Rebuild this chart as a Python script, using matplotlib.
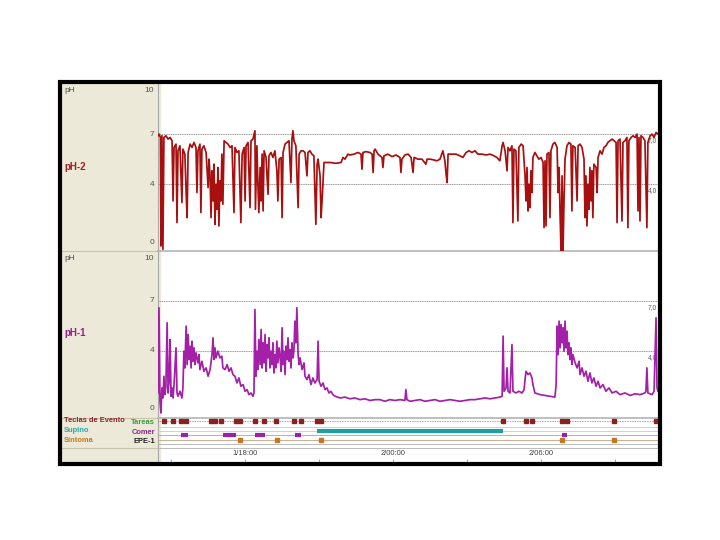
import matplotlib
matplotlib.use("Agg")
import matplotlib.pyplot as plt
from matplotlib.patches import Rectangle

plt.rcParams['font.family'] = ['Liberation Sans', 'DejaVu Sans']

# ---------------- data (time in hours from day 1 00:00, pH) ----------------
ph2_t = [14.47, 14.51, 14.57, 14.59, 14.63, 14.67, 14.71, 14.79, 14.88, 14.96, 15.04, 15.08, 15.12, 15.20, 15.24,
         15.28, 15.36, 15.44, 15.48, 15.56, 15.61, 15.65, 15.69, 15.77, 15.85, 15.93, 16.01, 16.05, 16.09, 16.17,
         16.21, 16.25, 16.33, 16.42, 16.50, 16.54, 16.58, 16.62, 16.66, 16.70, 16.74, 16.78, 16.82, 16.86, 16.90,
         16.94, 16.98, 17.02, 17.06, 17.10, 17.15, 17.23, 17.31, 17.39, 17.47, 17.55, 17.59, 17.67, 17.75, 17.83,
         17.88, 17.96, 18.00, 18.04, 18.12, 18.20, 18.24, 18.32, 18.40, 18.42, 18.48, 18.52, 18.56, 18.61, 18.65,
         18.69, 18.73, 18.77, 18.85, 18.93, 18.97, 19.05, 19.13, 19.21, 19.29, 19.33, 19.38, 19.46, 19.50, 19.54,
         19.62, 19.70, 19.78, 19.86, 19.90, 19.94, 19.98, 20.06, 20.15, 20.19, 20.27, 20.35, 20.43, 20.51, 20.55,
         20.63, 20.71, 20.79, 20.87, 20.92, 20.96, 21.04, 21.08, 21.12, 21.20, 21.44, 21.69, 21.89, 21.97, 22.05,
         22.17, 22.25, 22.42, 22.58, 22.70, 22.74, 22.78, 22.90, 23.06, 23.15, 23.19, 23.23, 23.27, 23.39, 23.55,
         23.59, 23.63, 23.79, 23.96, 24.12, 24.28, 24.32, 24.36, 24.48, 24.61, 24.73, 24.81, 24.85, 25.01, 25.17,
         25.33, 25.38, 25.50, 25.66, 25.78, 25.90, 26.02, 26.10, 26.15, 26.19, 26.23, 26.39, 26.55, 26.71, 26.83,
         26.96, 27.08, 27.20, 27.32, 27.44, 27.60, 27.77, 27.93, 28.09, 28.21, 28.33, 28.42, 28.46, 28.54, 28.62,
         28.66, 28.74, 28.82, 28.86, 28.90, 28.98, 29.06, 29.10, 29.19, 29.27, 29.35, 29.39, 29.43, 29.47, 29.51,
         29.55, 29.59, 29.63, 29.67, 29.75, 29.83, 29.91, 30.00, 30.08, 30.12, 30.16, 30.20, 30.24, 30.32, 30.36,
         30.40, 30.48, 30.56, 30.65, 30.69, 30.73, 30.77, 30.81, 30.85, 30.89, 30.93, 30.97, 31.05, 31.13, 31.21,
         31.25, 31.29, 31.38, 31.46, 31.50, 31.58, 31.66, 31.74, 31.78, 31.82, 31.86, 31.90, 31.94, 31.98, 32.02,
         32.06, 32.10, 32.14, 32.23, 32.27, 32.31, 32.39, 32.47, 32.55, 32.63, 32.71, 32.79, 32.88, 32.96, 33.04,
         33.08, 33.12, 33.20, 33.28, 33.32, 33.40, 33.48, 33.52, 33.56, 33.65, 33.73, 33.81, 33.89, 33.93, 33.97,
         34.01, 34.05, 34.13, 34.21, 34.29, 34.33, 34.42, 34.50, 34.58, 34.66, 34.74]
ph2_v = [6.9, 7.0, 6.8, 0.3, 6.9, 0.1, 6.8, 6.9, 6.7, 6.8, 6.6, 3.0, 6.2, 6.4, 1.7,
         6.0, 6.3, 2.9, 6.1, 5.8, 3.5, 2.0, 5.9, 6.4, 6.2, 6.5, 6.2, 3.5, 6.0, 6.4,
         2.3, 6.1, 6.3, 5.9, 3.8, 5.5, 4.5, 2.0, 4.8, 3.0, 5.2, 1.6, 4.0, 2.5, 5.0,
         1.5, 4.2, 3.0, 5.8, 2.8, 6.6, 6.5, 6.4, 6.2, 6.3, 2.3, 6.2, 5.9, 6.0, 1.7,
         5.8, 6.2, 3.0, 6.3, 6.5, 2.6, 6.6, 6.7, 7.2, 2.5, 6.3, 4.0, 2.3, 5.0, 3.0,
         5.8, 2.4, 6.0, 5.6, 3.4, 5.7, 5.9, 5.6, 6.0, 4.8, 3.0, 5.5, 5.6, 2.0, 5.9,
         6.4, 6.5, 6.6, 4.1, 6.7, 7.2, 6.6, 6.3, 2.6, 5.8, 6.0, 6.0, 5.9, 4.5, 5.9,
         6.0, 5.8, 5.7, 1.6, 5.2, 5.5, 4.5, 2.0, 3.0, 5.3, 5.3, 5.25, 5.3, 5.6, 5.5,
         5.8, 5.75, 5.8, 5.9, 5.8, 4.9, 5.9, 5.95, 5.9, 5.8, 4.7, 6.0, 6.1, 5.8, 5.6,
         5.0, 5.7, 5.8, 5.65, 5.75, 5.6, 4.7, 5.5, 5.75, 5.8, 5.6, 4.7, 5.6, 5.5, 5.5,
         5.2, 5.5, 5.5, 5.45, 5.4, 5.5, 6.0, 5.4, 4.6, 4.1, 5.8, 5.8, 5.8, 5.7, 5.6,
         5.9, 6.0, 5.9, 6.0, 5.8, 5.8, 5.75, 5.8, 5.7, 5.6, 5.4, 6.3, 6.5, 6.0, 4.8,
         6.2, 6.0, 6.3, 1.7, 6.1, 6.0, 1.8, 6.2, 6.4, 6.3, 4.5, 3.0, 5.0, 2.4, 4.0,
         2.6, 4.8, 3.5, 5.6, 5.9, 5.7, 5.5, 5.6, 5.3, 1.4, 5.4, 1.5, 5.8, 5.9, 2.0,
         6.0, 6.4, 6.5, 6.2, 3.5, 5.0, 2.2, 0.0, 4.5, 0.0, 3.0, 5.5, 6.3, 6.5, 6.4,
         2.4, 6.3, 6.2, 3.0, 6.3, 6.4, 6.2, 5.5, 2.0, 4.5, 1.5, 4.0, 2.5, 5.0, 3.0,
         4.8, 2.0, 5.2, 5.0, 3.5, 5.6, 6.0, 5.8, 6.2, 6.3, 6.5, 6.6, 6.7, 6.6, 6.5,
         1.7, 6.6, 6.7, 1.8, 6.5, 6.6, 6.8, 1.4, 6.6, 6.8, 6.9, 6.8, 7.0, 2.4, 6.8,
         1.8, 6.9, 6.8, 6.6, 1.4, 6.5, 6.9, 7.0, 6.8, 7.1, 7.0]

ph1_t = [14.47, 14.51, 14.55, 14.59, 14.63, 14.67, 14.71, 14.75, 14.79, 14.84, 14.88, 14.92, 14.96, 15.00, 15.04,
         15.08, 15.12, 15.20, 15.24, 15.28, 15.36, 15.44, 15.48, 15.52, 15.56, 15.61, 15.65, 15.69, 15.73, 15.77,
         15.81, 15.85, 15.89, 15.93, 15.97, 16.01, 16.09, 16.13, 16.17, 16.25, 16.33, 16.42, 16.50, 16.58, 16.66,
         16.70, 16.74, 16.78, 16.82, 16.90, 16.98, 17.06, 17.10, 17.19, 17.27, 17.35, 17.43, 17.51, 17.59, 17.67,
         17.75, 17.83, 17.92, 18.00, 18.08, 18.16, 18.24, 18.32, 18.36, 18.40, 18.44, 18.48, 18.52, 18.56, 18.61,
         18.65, 18.69, 18.73, 18.77, 18.81, 18.85, 18.89, 18.93, 18.97, 19.01, 19.05, 19.09, 19.13, 19.17, 19.21,
         19.25, 19.29, 19.33, 19.38, 19.42, 19.46, 19.50, 19.54, 19.58, 19.62, 19.66, 19.70, 19.74, 19.78, 19.82,
         19.86, 19.90, 19.94, 19.98, 20.02, 20.06, 20.10, 20.15, 20.19, 20.23, 20.31, 20.39, 20.43, 20.51, 20.59,
         20.67, 20.75, 20.83, 20.92, 20.96, 21.00, 21.08, 21.16, 21.24, 21.32, 21.40, 21.48, 21.56, 21.65, 21.85,
         22.05, 22.25, 22.45, 22.66, 22.86, 23.06, 23.27, 23.47, 23.67, 23.87, 24.08, 24.28, 24.48, 24.52, 24.56,
         24.69, 24.89, 25.09, 25.29, 25.50, 25.70, 25.90, 26.11, 26.31, 26.51, 26.71, 26.92, 27.12, 27.32, 27.53,
         27.73, 27.93, 28.13, 28.33, 28.42, 28.46, 28.50, 28.58, 28.62, 28.66, 28.74, 28.82, 28.86, 28.98, 29.10,
         29.23, 29.31, 29.35, 29.39, 29.47, 29.55, 29.63, 29.67, 29.75, 29.96, 30.16, 30.36, 30.56, 30.61, 30.65,
         30.69, 30.73, 30.77, 30.81, 30.85, 30.89, 30.93, 30.97, 31.01, 31.05, 31.09, 31.13, 31.17, 31.21, 31.25,
         31.29, 31.38, 31.46, 31.54, 31.58, 31.66, 31.74, 31.82, 31.90, 31.98, 32.06, 32.14, 32.23, 32.31, 32.39,
         32.51, 32.63, 32.75, 32.88, 33.04, 33.20, 33.40, 33.61, 33.81, 34.01, 34.21, 34.25, 34.29, 34.33, 34.50,
         34.58, 34.66, 34.70, 34.74]
ph1_v = [1.5, 6.6, 1.0, 0.3, 1.8, 1.2, 2.5, 1.4, 1.9, 5.7, 1.5, 2.2, 4.7, 1.3, 1.8,
         1.2, 2.0, 4.2, 1.5, 1.3, 1.6, 1.2, 1.8, 4.0, 3.0, 5.5, 3.2, 5.0, 3.5, 4.3,
         3.0, 4.6, 3.4, 4.2, 3.2, 3.9, 3.3, 3.8, 2.9, 3.4, 2.8, 3.0, 2.5, 2.9, 3.8,
         4.8, 3.5, 4.2, 3.6, 4.0, 3.6, 3.7, 3.0, 2.9, 3.2, 2.8, 3.0, 2.6, 2.5, 2.1,
         2.4, 1.9, 2.0, 1.6, 1.7, 1.4, 1.5, 1.3, 1.5, 6.5, 2.5, 4.0, 2.9, 4.7, 3.2,
         5.3, 3.0, 4.5, 3.3, 5.0, 2.8, 4.4, 3.6, 4.8, 3.0, 4.0, 3.2, 4.5, 2.7, 3.8,
         3.0, 4.6, 3.3, 4.2, 3.6, 2.8, 5.4, 3.2, 4.0, 2.6, 4.3, 3.5, 4.8, 3.4, 4.1,
         3.0, 4.5, 3.6, 4.0, 5.8, 4.5, 6.6, 3.8, 3.2, 3.6, 2.9, 3.3, 2.5, 2.3, 2.6,
         2.0, 2.4, 2.1, 2.3, 4.6, 2.2, 1.9, 2.1, 1.7, 1.8, 1.5, 1.6, 1.4, 1.3, 1.2,
         1.25, 1.15, 1.2, 1.1, 1.15, 1.05, 1.1, 1.1, 1.0, 1.1, 1.05, 1.1, 1.05, 1.7, 1.1,
         1.0, 1.05, 1.1, 1.0, 1.05, 1.1, 1.0, 1.05, 1.1, 1.05, 1.0, 1.05, 1.1, 1.1, 1.15,
         1.2, 1.15, 1.2, 1.25, 1.3, 4.9, 1.6, 1.8, 3.0, 1.6, 1.5, 4.4, 1.6, 1.5, 1.6,
         1.5, 1.7, 2.3, 2.8, 2.6, 2.7, 2.4, 2.0, 1.5, 1.4, 1.35, 1.3, 1.25, 2.0, 5.5,
         3.8, 5.8, 4.2, 5.6, 4.5, 5.4, 4.0, 5.8, 4.2, 5.2, 3.8, 4.5, 3.5, 4.2, 3.2,
         3.8, 3.3, 3.0, 3.4, 2.6, 3.0, 2.5, 2.8, 2.2, 2.7, 2.1, 2.4, 1.9, 2.2, 1.8,
         2.0, 1.6, 1.8, 1.5, 1.6, 1.4, 1.5, 1.35, 1.45, 1.4, 1.5, 1.6, 3.0, 1.5, 1.4,
         1.6, 6.0, 1.8, 1.6]

event_keys = [14.71, 15.08, 15.40, 15.61, 16.62, 16.78, 17.02, 17.63, 17.80, 18.40, 18.77, 19.25,
              19.98, 20.27, 20.92, 21.08, 28.46, 29.39, 29.63, 30.85, 31.05, 32.96, 34.66]
supine_periods = [(20.92, 28.46)]
meal_periods = [(15.40, 15.69), (17.10, 17.63), (18.40, 18.81), (20.02, 20.27), (30.85, 31.05)]
symptoms = [17.80, 19.29, 21.08, 30.85, 32.96]

time_ticks = [15, 18, 21, 24, 27, 30, 33]
time_labels = {18: "1/18:00", 24: "2/00:00", 30: "2/06:00"}
t_start, t_end = 14.47, 34.74

# ---------------- figure ----------------
W, H = 720, 540
fig = plt.figure(figsize=(7.2, 5.4), dpi=100)
fig.patch.set_facecolor('white')


def rect(x0, y0, x1, y1):
    return [x0 / W, 1 - y1 / H, (x1 - x0) / W, (y1 - y0) / H]


bg = fig.add_axes([0, 0, 1, 1])
bg.set_xlim(0, W)
bg.set_ylim(H, 0)
bg.axis('off')
bg.add_patch(Rectangle((60, 82), 100, 382, color='#ECE9D8', zorder=0))
for yy in (251, 418, 448):
    bg.plot([60, 158], [yy, yy], color='#C8C4B0', lw=0.8)
bg.plot([158, 158], [84, 462], color='#A8A8A8', lw=0.8)

small = 6.0
lab_col = '#505050'
# top panel labels
bg.text(64, 91, "pH", fontsize=small, color=lab_col, va='center')
for txt, yy in (("10", 91), ("7", 134), ("4", 184), ("0", 242)):
    bg.text(154, yy, txt, fontsize=small, color=lab_col, va='center', ha='right')
bg.text(64, 167, "pH-2", fontsize=7, color='#A51E1E', va='center', fontweight='bold')
# bottom panel labels
bg.text(64, 258, "pH", fontsize=small, color=lab_col, va='center')
for txt, yy in (("10", 258), ("7", 301), ("4", 351), ("0", 408)):
    bg.text(154, yy, txt, fontsize=small, color=lab_col, va='center', ha='right')
bg.text(64, 333, "pH-1", fontsize=7, color='#9A1E9A', va='center', fontweight='bold')
# event labels
ev = 5.4
bg.text(64, 421, "Teclas de Evento", fontsize=ev, color='#8B2323', va='center', fontweight='bold')
bg.text(155, 422.5, "Tareas", fontsize=ev, color='#3C9A3C', va='center', ha='right', fontweight='bold')
bg.text(64, 431, "Supino", fontsize=ev, color='#2AA8A8', va='center', fontweight='bold')
bg.text(155, 432.5, "Comer", fontsize=ev, color='#8B2A8B', va='center', ha='right', fontweight='bold')
bg.text(64, 440, "Síntoma", fontsize=ev, color='#C47A1E', va='center', fontweight='bold')
bg.text(155, 441.5, "EPE-1", fontsize=ev, color='#202020', va='center', ha='right', fontweight='bold')


def style_panel(ax):
    ax.set_xlim(t_start, t_end)
    ax.set_ylim(0, 10)
    ax.set_xticks([])
    ax.set_yticks([])
    ax.patch.set_alpha(0)
    for s in ('top', 'left', 'right'):
        ax.spines[s].set_visible(False)
    ax.spines['bottom'].set_color('#B4B4B4')
    ax.spines['bottom'].set_linewidth(1.2)
    ax.axhline(7, color='#9A9A9A', lw=0.8, ls=(0, (1, 0.6)), zorder=1)
    ax.axhline(4, color='#9A9A9A', lw=0.8, ls=(0, (1, 0.6)), zorder=1)
    ax.text(0.998, 6.85, "7,0", transform=ax.get_yaxis_transform(), fontsize=4.8,
            color='#606060', ha='right', va='top')
    ax.text(0.998, 3.85, "4,0", transform=ax.get_yaxis_transform(), fontsize=4.8,
            color='#606060', ha='right', va='top')


ax_top = fig.add_axes(rect(158, 84, 658, 251))
style_panel(ax_top)
ax_top.plot(ph2_t, ph2_v, color='#A81010', lw=1.25, zorder=3)

ax_bot = fig.add_axes(rect(158, 251, 658, 418))
style_panel(ax_bot)
ax_bot.plot(ph1_t, ph1_v, color='#A420A8', lw=1.25, zorder=3)

# events
ax_ev = fig.add_axes(rect(158, 418, 658, 448))
ax_ev.set_xlim(t_start, t_end)
ax_ev.set_ylim(30, 0)
ax_ev.set_xticks([])
ax_ev.set_yticks([])
ax_ev.patch.set_alpha(0)
for s in ax_ev.spines.values():
    s.set_visible(False)
row_key, row_sup, row_meal, row_sym = 3, 13, 17, 22
ax_ev.axhline(row_key, color='#B07070', lw=0.6, ls=(0, (1, 1)))
ax_ev.axhline(8.5, color='#C8C8C8', lw=0.6)
ax_ev.axhline(row_sup, color='#A8D8D8', lw=0.6)
ax_ev.axhline(row_meal, color='#B0A0B0', lw=0.6)
ax_ev.axhline(row_sym, color='#C8A080', lw=0.6)
ax_ev.axhline(26, color='#B0B0B0', lw=0.6)
ax_ev.plot(event_keys, [row_key] * len(event_keys), ls='none', marker='s', ms=2.6,
           color='#8B2020', mec='#8B2020')
for a, b in supine_periods:
    ax_ev.plot([a, b], [row_sup, row_sup], color='#1FA0A0', lw=3, solid_capstyle='butt')
for a, b in meal_periods:
    ax_ev.plot([a, b], [row_meal, row_meal], color='#9A22A8', lw=3, solid_capstyle='butt')
ax_ev.plot(symptoms, [row_sym] * len(symptoms), ls='none', marker='s', ms=2.4,
           color='#C07A20', mec='#C07A20')

# time axis
ax_tm = fig.add_axes(rect(158, 448, 658, 462))
ax_tm.set_xlim(t_start, t_end)
ax_tm.set_ylim(0, 1)
ax_tm.set_yticks([])
ax_tm.set_xticks(time_ticks)
ax_tm.set_xticklabels([])
ax_tm.tick_params(axis='x', direction='in', length=2.5, color='#909090', width=0.6)
ax_tm.patch.set_alpha(0)
for s in ax_tm.spines.values():
    s.set_visible(False)
ax_tm.spines['top'].set_visible(True)
ax_tm.spines['top'].set_color('#B0B0B0')
ax_tm.spines['top'].set_linewidth(0.6)
for t, lab in time_labels.items():
    ax_tm.text(t, 0.62, lab, fontsize=5.4, color='#404040', ha='center', va='center')

# black frame on top
ov = fig.add_axes([0, 0, 1, 1], zorder=10)
ov.set_xlim(0, W)
ov.set_ylim(H, 0)
ov.axis('off')
ov.patch.set_alpha(0)
ov.add_patch(Rectangle((60, 82), 600, 382, fill=False, ec='black', lw=3.0))

fig.savefig("out.png", dpi=100, facecolor='white')
